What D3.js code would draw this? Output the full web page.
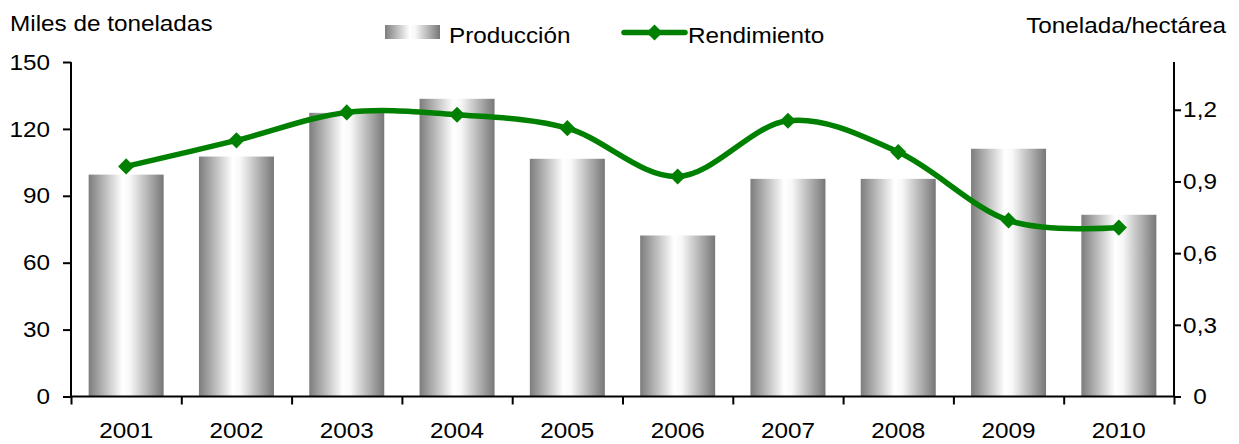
<!DOCTYPE html>
<html><head><meta charset="utf-8">
<script src="https://cdn.jsdelivr.net/npm/d3@7"></script>
<style>html,body{margin:0;padding:0;background:#fff}svg{display:block}text{font-family:"Liberation Sans",Arial,sans-serif;fill:#000}</style>
</head><body>
<svg id="c" width="1239" height="444"></svg>
<script>
const years = ["2001","2002","2003","2004","2005","2006","2007","2008","2009","2010"];
const produccion = [99.5, 107.6, 127.2, 133.5, 106.6, 72.2, 97.6, 97.6, 111.1, 81.5];
const rendimiento = [0.963, 1.072, 1.189, 1.179, 1.123, 0.921, 1.154, 1.023, 0.737, 0.707];
const leftTicks = [0, 30, 60, 90, 120, 150];
const rightTicks = [0, 0.3, 0.6, 0.9, 1.2];
const leftTitle = "Miles de toneladas";
const rightTitle = "Tonelada/hectárea";
const legendLabels = ["Producción", "Rendimiento"];

const svg = d3.select("#c");
const X0 = 71, X1 = 1174, Y0 = 396.5, Y1 = 62;
const FS = 22.5, SX = 1.08;
const green = "#008000";

const x = d3.scaleBand().domain(years).range([X0, X1]).paddingInner(0.32).paddingOuter(0.16);
const yL = d3.scaleLinear().domain([0, 150]).range([Y0, Y1]);
const yR = d3.scaleLinear().domain([0, 1.4]).range([Y0, Y1]);

const defs = svg.append("defs");
const g = defs.append("linearGradient").attr("id", "bg").attr("x1", "0").attr("x2", "1").attr("y1", "0").attr("y2", "0");
g.append("stop").attr("offset", "0").attr("stop-color", "#7d7d7d");
g.append("stop").attr("offset", "0.45").attr("stop-color", "#ffffff");
g.append("stop").attr("offset", "0.55").attr("stop-color", "#f8f8f8");
g.append("stop").attr("offset", "1").attr("stop-color", "#777777");

function txt(parent, s, tx, ty, anchor, base) {
  return parent.append("text")
    .attr("transform", `translate(${tx},${ty}) scale(${SX},1)`)
    .attr("text-anchor", anchor || "start")
    .attr("dominant-baseline", base || "auto")
    .style("font-size", FS + "px")
    .text(s);
}

// bars
svg.append("g").selectAll("rect").data(years).join("rect")
  .attr("x", d => x(d)).attr("width", x.bandwidth())
  .attr("y", (d, i) => yL(produccion[i]))
  .attr("height", (d, i) => Y0 - yL(produccion[i]))
  .attr("fill", "url(#bg)");

// axes
const axL = svg.append("g").attr("transform", `translate(${X0},0)`)
  .call(d3.axisLeft(yL).tickValues(leftTicks).tickSize(8).tickFormat(""));
const axR = svg.append("g").attr("transform", `translate(${X1},0)`)
  .call(d3.axisRight(yR).tickValues(rightTicks).tickSize(7).tickFormat(""));
const boundaries = d3.range(years.length + 1).map(i => X0 + i * x.step());
const xb = d3.scaleLinear().domain([X0, X1]).range([X0, X1]);
const axB = svg.append("g").attr("transform", `translate(0,${Y0})`)
  .call(d3.axisBottom(xb).tickValues(boundaries).tickSize(8).tickFormat(""));
[axL, axR, axB].forEach(a => {
  a.selectAll(".domain").attr("stroke", "#000").attr("stroke-width", 2);
  a.selectAll(".tick line").attr("stroke", "#000").attr("stroke-width", 2);
});
axL.select(".domain").attr("d", `M0,${Y0}V${Y1}`);
axR.select(".domain").attr("d", `M0,${Y0}V${Y1}`);
axB.select(".domain").attr("d", `M${X0},0H${X1}`);

// tick labels
leftTicks.forEach(v => txt(svg, String(v), 50, yL(v), "end", "central"));
rightTicks.forEach(v => txt(svg, String(v).replace(".", ","), 1200, yR(v), "middle", "central"));
years.forEach(y => txt(svg, y, x(y) + x.bandwidth() / 2, 438, "middle"));

// titles
txt(svg, leftTitle, 10, 31);
txt(svg, rightTitle, 1226, 32.5, "end");

// line
const line = d3.line().x((d, i) => x(years[i]) + x.bandwidth() / 2).y(d => yR(d))
  .curve(d3.curveCatmullRom.alpha(0));
svg.append("path").datum(rendimiento).attr("d", line)
  .attr("fill", "none").attr("stroke", green).attr("stroke-width", 5.5).attr("stroke-linejoin", "round");
const diamond = d3.symbol().type(d3.symbolSquare).size(130);
svg.append("g").selectAll("path").data(rendimiento).join("path")
  .attr("d", diamond)
  .attr("transform", (d, i) => `translate(${x(years[i]) + x.bandwidth() / 2},${yR(d)}) rotate(45)`)
  .attr("fill", green);

// legend
svg.append("rect").attr("x", 385).attr("y", 25).attr("width", 55).attr("height", 14).attr("fill", "url(#bg)");
txt(svg, legendLabels[0], 449, 43);
svg.append("line").attr("x1", 624).attr("x2", 685).attr("y1", 32.5).attr("y2", 32.5)
  .attr("stroke", green).attr("stroke-width", 5.5).attr("stroke-linecap", "round");
svg.append("path").attr("d", diamond).attr("transform", "translate(654.5,32.5) rotate(45)").attr("fill", green);
txt(svg, legendLabels[1], 688, 43);
</script>
</body></html>
